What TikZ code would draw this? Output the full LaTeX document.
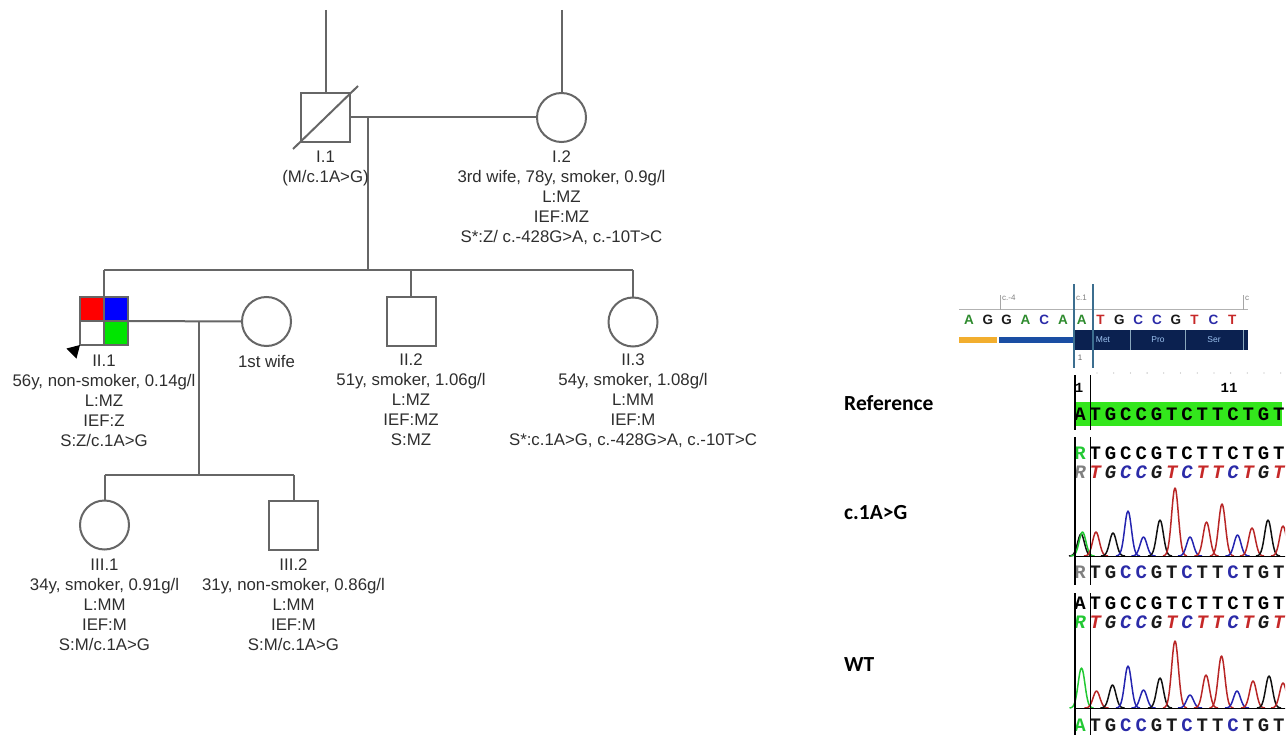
\documentclass[tikz,border=0pt]{standalone}
\usepackage{fontspec}
\setmainfont{Liberation Sans}
\newfontfamily\calibfont{Carlito}
\newfontfamily\seqmonofont{Liberation Mono}
\usetikzlibrary{calc}
\definecolor{pedline}{HTML}{666666}
\definecolor{pedtext}{HTML}{2E2E2E}
\definecolor{baseA}{HTML}{2E8B2E}
\definecolor{baseC}{HTML}{2B2BA8}
\definecolor{baseG}{HTML}{1A1A1A}
\definecolor{baseT}{HTML}{C62828}
\definecolor{hlgreen}{HTML}{33E61C}
\definecolor{navybar}{HTML}{0B2150}
\definecolor{midblue}{HTML}{1A4EA3}
\definecolor{orangebar}{HTML}{F2AE2E}
\definecolor{boxblue}{HTML}{3C6E8F}
\definecolor{peakA}{HTML}{22C833}
\definecolor{peakC}{HTML}{2424B0}
\definecolor{peakG}{HTML}{111111}
\definecolor{peakT}{HTML}{B82626}
\definecolor{greyR}{HTML}{808080}
\definecolor{barlabel}{HTML}{9CC2F0}
\newcommand\pedfont{\fontsize{16.8}{20}\selectfont}
\newcommand\seqrowdraw[4]{%
  \foreach \ch/\cl [count=\i] in {#4} {%
    \node[#3, text=\cl] (#1\i) at ({1080+(\i-1)*15.3},#2) {\ch};
  }}
\newcommand\peakdraw[4]{%
  \draw[#4, line width=1.5pt, line join=round] plot[domain=-12:12, samples=25, smooth] ({#1+\x},{#2-#3*exp(0-(\x/4.8)^2)});}
\begin{document}
\begin{tikzpicture}[x=1pt,y=-1pt,
  pl/.style={draw=pedline, line width=2pt},
  male/.style={rectangle, draw=pedline, line width=2pt, minimum size=49pt, inner sep=0pt},
  female/.style={circle, draw=pedline, line width=2pt, minimum size=49pt, inner sep=0pt},
  lbl/.style={font=\pedfont, text=pedtext, align=center, anchor=north, inner sep=0pt},
  side/.style={font=\calibfont\bfseries\fontsize{21.5}{22}\selectfont, text=black, anchor=west, inner sep=0pt},
  seqch/.style={font=\seqmonofont\bfseries\fontsize{19}{19}\selectfont, inner sep=0pt},
  seqit/.style={font=\seqmonofont\bfseries\itshape\fontsize{19}{19}\selectfont, inner sep=0pt},
  topch/.style={font=\bfseries\fontsize{13.5}{14}\selectfont, inner sep=0pt},
  tiny/.style={font=\fontsize{8}{9}\selectfont, text=gray, inner sep=0pt},
  sepline/.style={draw=black, line width=2pt}]
\useasboundingbox (0,0) rectangle (1287,735);

% ---------------- pedigree ----------------
\node[male] (I1) at (325.5,117.5) {};
\node[female] (I2) at (561.5,117.5) {};
\coordinate (topI1) at (325.5,10);
\coordinate (topI2) at (561.5,10);
\draw[pl] (topI1) -- (I1.north);
\draw[pl] (topI2) -- (I2.north);
\draw[pl] ($(I1.south west)+(-7,6)$) -- ($(I1.north east)+(7,-6)$);
\draw[pl] (I1.east) -- (I2.west);
\coordinate (m1) at (368,117.5);
\coordinate (sib2) at (368,270);
\draw[pl] (m1) -- (sib2);

\node[male, minimum size=48pt,
  path picture={
    \fill[red] (path picture bounding box.north west) rectangle (path picture bounding box.center);
    \fill[blue] (path picture bounding box.north) rectangle (path picture bounding box.east);
    \fill[green!90!black!100] (path picture bounding box.center) rectangle (path picture bounding box.south east);
    \draw[pedline, line width=2pt] (path picture bounding box.north) -- (path picture bounding box.south);
    \draw[pedline, line width=2pt] (path picture bounding box.west) -- (path picture bounding box.east);
  }] (II1) at (104,321) {};
\node[female] (W1) at (266.5,321.5) {};
\node[male] (II2) at (411,321) {};
\node[female] (II3) at (633,322) {};

\draw[pl] (II1.north |- sib2) -- (II3.north |- sib2);
\draw[pl] (II1.north |- sib2) -- (II1.north);
\draw[pl] (II2.north |- sib2) -- (II2.north);
\draw[pl] (II3.north |- sib2) -- (II3.north);
\draw[pl] (II1.east) -- (W1.west);
\coordinate (m2) at (198.5,321.5);
\coordinate (sib3) at (198.5,475);
\draw[pl] (m2) -- (sib3);

\fill[black] (80,345) -- (66.5,348.5) -- (76.5,358.5) -- cycle;

\node[female] (III1) at (104.5,525) {};
\node[male] (III2) at (293.5,525) {};
\draw[pl] (III1.north |- sib3) -- (III2.north |- sib3);
\draw[pl] (III1.north |- sib3) -- (III1.north);
\draw[pl] (III2.north |- sib3) -- (III2.north);

% labels
\node[lbl] (lI1) at (325.5,151) {I.1\\(M/c.1A>G)};
\node[lbl] (lI2) at (561.5,151) {I.2\\3rd wife, 78y, smoker, 0.9g/l\\L:MZ\\IEF:MZ\\S*:Z/ c.-428G>A, c.-10T>C};
\node[lbl] (lII1) at (104,355) {II.1\\56y, non-smoker, 0.14g/l\\L:MZ\\IEF:Z\\S:Z/c.1A>G};
\node[lbl] (lW1) at (266.5,355) {1st wife};
\node[lbl] (lII2) at (411,354) {II.2\\51y, smoker, 1.06g/l\\L:MZ\\IEF:MZ\\S:MZ};
\node[lbl] (lII3) at (633,354) {II.3\\54y, smoker, 1.08g/l\\L:MM\\IEF:M\\S*:c.1A>G, c.-428G>A, c.-10T>C};
\node[lbl] (lIII1) at (104.5,559) {III.1\\34y, smoker, 0.91g/l\\L:MM\\IEF:M\\S:M/c.1A>G};
\node[lbl] (lIII2) at (293.5,559) {III.2\\31y, non-smoker, 0.86g/l\\L:MM\\IEF:M\\S:M/c.1A>G};

% ---------------- sequencing panel ----------------
\node[side] (tRef) at (844,403) {Reference};
\node[side] (tMut) at (844,513) {c.1A>G};
\node[side] (tWT) at (844,665) {WT};

\begin{scope}
\clip (940,270) rectangle (1285,735);
% ruler
\draw[gray!60, line width=0.8pt] (959,309) -- (1248,309);
\draw[gray!70, line width=0.8pt] (1000,295) -- (1000,310);
\draw[gray!70, line width=0.8pt] (1243,295) -- (1243,310);
\node[tiny, anchor=west] (cm4) at (1002,298) {c.-4};
\node[tiny, anchor=west] (c1) at (1076,298) {c.1};
\node[tiny, anchor=west] (cr) at (1245,298) {c};
% reference letters
\foreach \ch/\cl [count=\i] in {A/baseA,G/baseG,G/baseG,A/baseA,C/baseC,A/baseA,A/baseA,T/baseT,G/baseG,C/baseC,C/baseC,G/baseG,T/baseT,C/baseC,T/baseT} {
  \node[topch, text=\cl] (top\i) at ({969+(\i-1)*18.8},319.5) {\ch};
}
% bars
\fill[orangebar] (959,337) rectangle (997,343);
\fill[midblue] (999,337) rectangle (1074,343);
\fill[navybar] (1074,330) rectangle (1248,350);
\foreach \sx in {1130,1185.5,1243} { \draw[boxblue!60!white, line width=0.8pt] (\sx,330) -- (\sx,350); }
\node[font=\fontsize{8.5}{9}\selectfont, text=barlabel, inner sep=0pt] (met) at (1103,340) {Met};
\node[font=\fontsize{8.5}{9}\selectfont, text=barlabel, inner sep=0pt] (pro) at (1158,340) {Pro};
\node[font=\fontsize{8.5}{9}\selectfont, text=barlabel, inner sep=0pt] (ser) at (1214,340) {Ser};
% highlight box
\draw[boxblue, line width=1.3pt] (1074,284) -- (1074,368);
\draw[boxblue, line width=1.3pt] (1093,284) -- (1093,368);
\node[tiny, text=gray!80!black] (one) at (1080,358) {1};
% dotted line
\draw[gray!60, line width=1.3pt, line cap=round, dash pattern=on 0pt off 16.7pt] (1097,373) -- (1287,373);
\node[font=\seqmonofont\bfseries\fontsize{14}{14}\selectfont, inner sep=0pt] (n1) at (1079,388) {1};
\node[font=\seqmonofont\bfseries\fontsize{14}{14}\selectfont, inner sep=0pt] (n11) at (1229,388) {11};
% reference highlighted row
\fill[hlgreen] (1075,402) rectangle (1282,425.5);
\seqrowdraw{rf}{414}{seqch}{A/black,T/black,G/black,C/black,C/black,G/black,T/black,C/black,T/black,T/black,C/black,T/black,G/black,T/black}
% c.1A>G section
\seqrowdraw{ma}{453}{seqch}{R/peakA,T/black,G/black,C/black,C/black,G/black,T/black,C/black,T/black,T/black,C/black,T/black,G/black,T/black}
\seqrowdraw{mb}{472.5}{seqit}{R/greyR,T/baseT,G/baseG,C/baseC,C/baseC,G/baseG,T/baseT,C/baseC,T/baseT,T/baseT,C/baseC,T/baseT,G/baseG,T/baseT}
\foreach \c/\h/\cl in {1081/22/peakG,1082.5/24/peakA,1096/24/peakT,1113/23/peakG,1128/45/peakC,1143.5/19/peakC,1160/36/peakG,1175/68/peakT,1190/19/peakC,1206.5/34/peakT,1222/52/peakT,1237.5/21/peakC,1252/28/peakT,1268/36/peakG,1283/30/peakT} {
  \peakdraw{\c}{556}{\h}{\cl}
}
\draw[black, line width=1.2pt] (1074,556.5) -- (1287,556.5);
\seqrowdraw{mc}{572}{seqch}{R/greyR,T/baseG,G/baseG,C/baseC,C/baseC,G/baseG,T/baseG,C/baseC,T/baseG,T/baseG,C/baseC,T/baseG,G/baseG,T/baseG}
% WT section
\seqrowdraw{wa}{603.5}{seqch}{A/black,T/black,G/black,C/black,C/black,G/black,T/black,C/black,T/black,T/black,C/black,T/black,G/black,T/black}
\seqrowdraw{wb}{622}{seqit}{R/peakA,T/baseT,G/baseG,C/baseC,C/baseC,G/baseG,T/baseT,C/baseC,T/baseT,T/baseT,C/baseC,T/baseT,G/baseG,T/baseT}
\foreach \c/\h/\cl in {1081.5/40/peakA,1096.5/17/peakT,1112.5/23/peakG,1128/42/peakC,1143.5/18/peakC,1160/30/peakG,1175/67/peakT,1190/13/peakC,1206/33/peakT,1221.5/52/peakT,1237/17/peakC,1253/27/peakT,1269/32/peakG,1283/25/peakT} {
  \peakdraw{\c}{708}{\h}{\cl}
}
\draw[black, line width=1.2pt] (1074,708.5) -- (1287,708.5);
\seqrowdraw{wc}{725}{seqch}{A/peakA,T/baseG,G/baseG,C/baseC,C/baseC,G/baseG,T/baseG,C/baseC,T/baseG,T/baseG,C/baseC,T/baseG,G/baseG,T/baseG}
% vertical black guide lines
\foreach \ya/\yb in {375/430,437/585,593/735} {
  \draw[sepline] (1075,\ya) -- (1075,\yb);
  \draw[black, line width=1.4pt] (1090.5,\ya) -- (1090.5,\yb);
}
\end{scope}
\end{tikzpicture}
\end{document}
